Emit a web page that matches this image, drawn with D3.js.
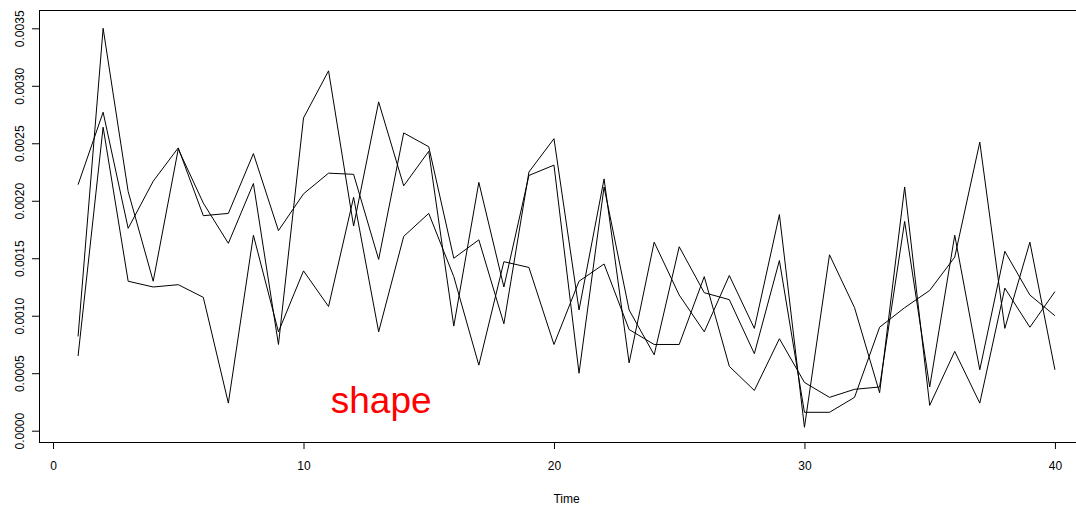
<!DOCTYPE html>
<html>
<head>
<meta charset="utf-8">
<script src="https://cdn.jsdelivr.net/npm/d3@7"></script>
<style>
  body { margin: 0; background: #fff; }
  svg { display: block; font-family: "Liberation Sans", Arial, sans-serif; }
</style>
</head>
<body>
<div id="grafico"></div>
<script>
     var tiempo = d3.range(1, 41)
     var serieA = [0.00214, 0.00277, 0.00176, 0.00217, 0.00246, 0.00187, 0.00189, 0.00241, 0.00174, 0.00206,
         0.00224, 0.00223, 0.00149, 0.00259, 0.00247, 0.00150, 0.00166, 0.00093, 0.00225, 0.00254,
         0.00105, 0.00219, 0.00059, 0.00164, 0.00118, 0.00086, 0.00135, 0.00089, 0.00188, 0.00003,
         0.00153, 0.00107, 0.00033, 0.00212, 0.00022, 0.00069, 0.00024, 0.00124, 0.00090, 0.00121]
     var serieB = [0.00082, 0.00350, 0.00208, 0.00130, 0.00245, 0.00198, 0.00163, 0.00215, 0.00075, 0.00272,
         0.00313, 0.00178, 0.00286, 0.00213, 0.00243, 0.00091, 0.00216, 0.00125, 0.00222, 0.00231,
         0.00050, 0.00212, 0.00105, 0.00066, 0.00160, 0.00120, 0.00114, 0.00067, 0.00148, 0.00016,
         0.00016, 0.00029, 0.00090, 0.00107, 0.00122, 0.00151, 0.00251, 0.00089, 0.00164, 0.00053]
     var serieC = [0.00065, 0.00264, 0.00130, 0.00125, 0.00127, 0.00116, 0.00024, 0.00170, 0.00086, 0.00139,
         0.00108, 0.00203, 0.00086, 0.00169, 0.00189, 0.00134, 0.00057, 0.00147, 0.00142, 0.00075,
         0.00130, 0.00145, 0.00088, 0.00075, 0.00075, 0.00134, 0.00056, 0.00035, 0.00080, 0.00042,
         0.00029, 0.00036, 0.00038, 0.00182, 0.00038, 0.00170, 0.00053, 0.00156, 0.00118, 0.00100]
     var series = [serieA, serieB, serieC]
     var ticksX = [0, 10, 20, 30, 40]
     var ticksY = [0, 0.0005, 0.001, 0.0015, 0.002, 0.0025, 0.003, 0.0035]
     var etiqueta = "shape"
     var tituloX = "Time"

     var width = 1076,
         height = 506;

     // R-like extended domains (4% each side)
     var x = d3.scaleLinear()
         .domain([-0.56, 41.56])
         .range([39, 1094]);

     var y = d3.scaleLinear()
         .domain([0, 0.0035])
         .range([430.7, 28.3]);

     var svg = d3.select("#grafico").append("svg")
         .attr("width", width)
         .attr("height", height);

     var linea = d3.line()
         .x(function (d, i) { return x(tiempo[i]); })
         .y(function (d) { return y(d); });

     svg.selectAll(".serie")
         .data(series)
         .enter().append("path")
         .attr("class", "serie")
         .attr("d", linea)
         .attr("fill", "none")
         .attr("stroke", "#000")
         .attr("stroke-width", 1);

     // plot box
     svg.append("rect")
         .attr("x", 39.5)
         .attr("y", 10.5)
         .attr("width", 1094 - 39)
         .attr("height", 442 - 10)
         .attr("fill", "none")
         .attr("stroke", "#000")
         .attr("stroke-width", 1);

     var ejeX = svg.append("g")
         .attr("transform", "translate(0,442)")
         .call(d3.axisBottom(x).tickValues(ticksX).tickSize(7).tickPadding(12).tickFormat(d3.format("d")));
     ejeX.select(".domain").remove();
     ejeX.selectAll("text").attr("fill", "#000").style("font-size", "12px").style("font-family", "Liberation Sans, Arial, sans-serif");

     var ejeY = svg.append("g")
         .attr("transform", "translate(39,0)")
         .call(d3.axisLeft(y).tickValues(ticksY).tickSize(7).tickFormat(d3.format(".4f")));
     ejeY.select(".domain").remove();
     ejeY.selectAll("text")
         .attr("fill", "#000")
         .attr("x", 0)
         .attr("y", -15)
         .attr("dy", 0)
         .attr("transform", "rotate(-90)")
         .style("text-anchor", "middle")
         .style("font-size", "12px")
         .style("font-family", "Liberation Sans, Arial, sans-serif");

     svg.append("text")
         .attr("x", (39 + 1094) / 2)
         .attr("y", 503)
         .attr("text-anchor", "middle")
         .attr("fill", "#000")
         .style("font-size", "12px")
         .text(tituloX);

     svg.append("text")
         .attr("x", x(13.1))
         .attr("y", y(0.00015))
         .attr("text-anchor", "middle")
         .attr("fill", "#ff0000")
         .style("font-size", "37px")
         .text(etiqueta);
</script>
</body>
</html>
